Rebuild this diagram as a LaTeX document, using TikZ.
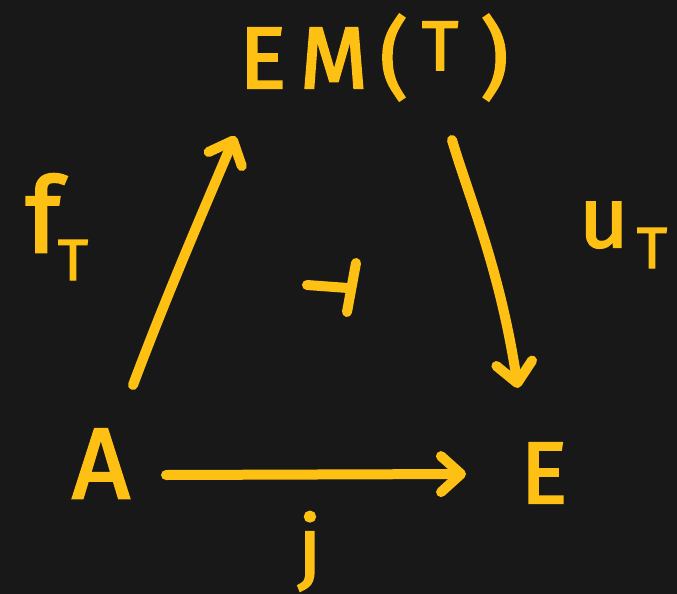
\documentclass[tikz,border=0pt]{standalone}
\usepackage{fontspec}
\setmainfont{Fira Sans}[RawFeature={embolden=2.5}]
\usetikzlibrary{arrows.meta}
\definecolor{bgc}{HTML}{181818}
\definecolor{ink}{HTML}{FFC014}
\tikzset{
  stroke/.style={draw=ink, line width=10pt, line cap=round, line join=round},
  arr/.style={stroke, -{Straight Barb[length=20pt, width=36pt, line cap=round, line join=round]}},
  lbl/.style={text=ink, inner sep=0pt, anchor=base},
}
\begin{document}
\begin{tikzpicture}[x=1pt,y=-1pt]
\fill[bgc] (0,0) rectangle (677,594);
\useasboundingbox (0,0) rectangle (677,594);
\node[lbl] (EM) at (374,88) {\fontsize{87}{90}\selectfont E\kern14pt M\kern12pt(\kern14pt\raisebox{18pt}{\fontsize{70}{70}\selectfont T}\kern22pt)};
\node[lbl] (A) at (101,498) {\fontsize{100}{100}\selectfont A};
\node[lbl] (E) at (544,503) {\fontsize{87}{90}\selectfont E};
\node[lbl] (f) at (43,252) {\fontsize{104}{104}\selectfont f};
\node[lbl] (fT) at (73,280) {\fontsize{58}{58}\selectfont T};
\node[lbl] (u) at (604,247) {\fontsize{85}{85}\selectfont u};
\node[lbl] (uT) at (652,268) {\fontsize{58}{58}\selectfont T};
\node[lbl] (j) at (310,574) {\fontsize{80}{80}\selectfont j};
\coordinate (l0) at (133,385);
\coordinate (l1) at (235,136);
\coordinate (r0) at (452,140);
\coordinate (r1) at (518,388);
\coordinate (b0) at (166,475);
\coordinate (b1) at (466,474);
\coordinate (h0) at (307,285);
\coordinate (h1) at (348,288);
\coordinate (v0) at (356,263);
\coordinate (v1) at (347,312);
\draw[arr] (l0) .. controls (165,300) and (195,230) .. (l1);
\draw[arr] (r0) .. controls (470,200) and (500,270) .. (r1);
\draw[arr] (b0) -- (b1);
\draw[stroke] (h0) -- (h1);
\draw[stroke] (v0) -- (v1);
\end{tikzpicture}
\end{document}
